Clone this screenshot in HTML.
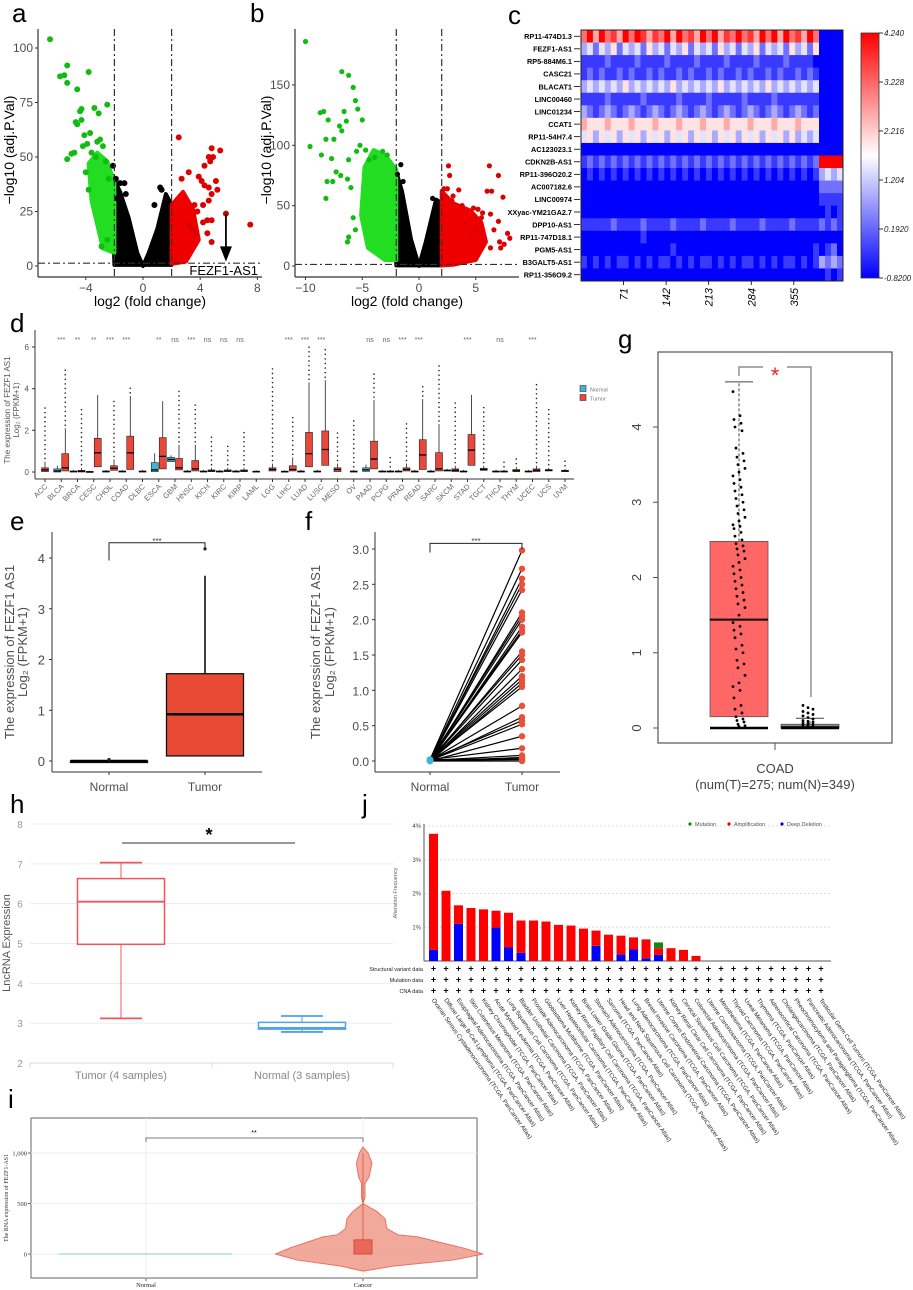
<!DOCTYPE html>
<html><head><meta charset="utf-8">
<style>
html,body{margin:0;padding:0;background:#fff;}
svg{display:block;font-family:"Liberation Sans",Arial,sans-serif;}
</style></head>
<body>
<svg id="fig" width="913" height="1290" viewBox="0 0 913 1290" xmlns="http://www.w3.org/2000/svg">
<defs>
<linearGradient id="cbar" x1="0" y1="1" x2="0" y2="0">
<stop offset="0" stop-color="#0000ff"/><stop offset="0.5" stop-color="#ffffff"/><stop offset="1" stop-color="#ff0000"/>
</linearGradient>
</defs>
<g font-size="26" fill="#000">
<text x="12" y="22">a</text>
<text x="250" y="22">b</text>
<text x="508" y="24">c</text>
<text x="10" y="332">d</text>
<text x="10" y="530">e</text>
<text x="305" y="530">f</text>
<text x="618" y="348">g</text>
<text x="10" y="813">h</text>
<text x="362" y="813">j</text>
<text x="8" y="1108">i</text>
</g>
</svg>
<script>
// ---------- DATA ----------
// panel a volcano
const aGreen=[[-6.5,104],[-5.3,92],[-5.8,87],[-5.5,87.5],[-5.3,84],[-4.6,81],[-3.8,89],[-4.3,72],[-3.4,72.5],[-3.1,70],[-2.5,74],[-4.4,71],[-4.7,66],[-4.6,65],[-4.3,67],[-5.3,49],[-5,51.5],[-4.8,52],[-3.7,61],[-4.1,60],[-3.9,56],[-4.2,55],[-3.2,57],[-3,58],[-2.8,55],[-3.6,52],[-3.3,50],[-2.6,48],[-4,43],[-2.4,40],[-2.9,9],[-3.8,35],[-2.5,12]];
const aBlack=[[-2.1,46],[-1.3,38],[-1.6,38],[-1.2,33],[-1.8,31],[1.2,36],[1.3,35],[1.5,20],[0.8,28],[-1.9,40]];
const aRed=[[2.5,59],[3.2,43],[2.7,40],[4.3,46],[4.8,54],[5.4,53],[4.6,50],[4.9,50],[4.7,48],[3.9,41],[4.1,39],[4.3,37],[5.1,39],[5.2,35],[4.6,36],[4.8,33],[4.6,30],[3.6,28],[4.2,28],[3.8,25],[4.5,21],[4.8,21],[5.8,24],[7.5,19],[4.2,20],[3.7,15],[4.5,15],[4.8,11],[3.4,17],[3.2,19]];
const aBlackCloud=[[-2.2,42],[-1.6,34],[-1,22],[-0.4,6],[0,0],[0.4,6],[1,17],[1.6,33],[2,28],[2,0.5],[-2,0.5]];
const aGreenCloud=[[-2,6],[-2,38],[-2.5,48],[-3.2,52],[-3.8,47],[-3.6,30],[-2.8,8]];
const aRedCloud=[[2,1],[2,28],[2.8,34],[3.5,26],[3.9,12],[3,2]];
// panel b volcano
const bGreen=[[-10,186],[-6.8,161],[-6.2,158],[-5.8,148],[-5.6,137],[-5.4,130],[-6.6,128],[-8.4,128],[-8.7,127],[-8,121],[-6.4,120],[-5,121],[-7,116],[-6.8,112],[-7.5,105],[-8.2,105],[-9.6,99],[-8.6,92],[-7.7,89],[-6.2,88],[-7.6,70],[-7.3,78],[-8.1,70],[-8.2,56],[-6.9,75],[-6.3,72],[-6,65],[-6.2,24],[-6.3,20],[-5.6,30],[-5.8,40],[-5.2,100],[-5.5,95],[-4.7,96],[-3.2,95],[-2.8,92],[-3.9,90],[-4.4,88]];
const bRed=[[2.6,83],[2.7,75],[2.2,64],[2.5,64],[3.5,63],[6.2,83],[7,75],[6,62],[6.4,62],[7.4,57],[3,58],[2.9,54],[3.8,50],[4.8,48],[5.2,47],[5.6,44],[6.3,43],[7,37],[5.5,40],[6.6,30],[7.8,27],[8,23],[7.1,20],[7.5,18],[7.2,15],[6.3,15],[4.5,25],[5,30],[4,35]];
const bBlack=[[-1.6,84],[-1.9,76],[-1.4,70],[1.2,56],[1.5,52]];
const bBlackCloud=[[-2,78],[-1.5,62],[-0.7,22],[0,0],[0.6,20],[1.5,55],[2,52],[2,0.5],[-2,0.5]];
const bGreenCloud=[[-2,5],[-2,80],[-3,92],[-4,96],[-4.8,82],[-5.1,42],[-4.5,15],[-3,5]];
const bRedCloud=[[2,0.5],[2,62],[3,52],[4.5,46],[5.5,36],[5.9,20],[5,5],[3,1]];
// panel c heatmap
const genes=["RP11-474D1.3","FEZF1-AS1","RP5-884M6.1","CASC21","BLACAT1","LINC00460","LINC01234","CCAT1","RP11-54H7.4","AC123023.1","CDKN2B-AS1","RP11-396O20.2","AC007182.6","LINC00974","XXyac-YM21GA2.7","DPP10-AS1","RP11-747D18.1","PGM5-AS1","B3GALT5-AS1","RP11-356O9.2"];
const heatRows=[
"79697869798687969786979687978697969786970000",
"34243524342534243524342534243524342534250000",
"11112111121111211112111121111211112111100000",
"12121121211212112121121211212112121121210000",
"34343435343434353434343534343435343434340000",
"11112111112111112111121111121111211111110000",
"32123212321232123212321232123212321232120000",
"65556555655565556555655565556555655565550000",
"45354535453545354535453545354535453534340000",
"00000000000000000000000000000000000000000000",
"12121212121212121212121212121212121212129999",
"01010101010101010101010101010101010101013434",
"00000000000000000000000000000000000000002222",
"00000000000000000000000000000000000000001111",
"00000000000000000000000000000000000000000101",
"11111211112111121111211112111121111211112121",
"00000000001000000000000000000000000000000000",
"00000000000000010000000000000000000000010120",
"10101011010101101010110101011010101101013232",
"00000000000000000000000000000000000000000101"];
const heatTicks=[71,142,213,284,355];
const cbarLabels=["4.240","3.228","2.216","1.204","0.1920","-0.8200"];
// panel d
const dCats=["ACC","BLCA","BRCA","CESC","CHOL","COAD","DLBC","ESCA","GBM","HNSC","KICH","KIRC","KIRP","LAML","LGG","LIHC","LUAD","LUSC","MESO","OV","PAAD","PCPG","PRAD","READ","SARC","SKCM","STAD","TGCT","THCA","THYM","UCEC","UCS","UVM"];
const dSig=["","***","**","**","***","***","","**","ns","***","ns","ns","ns","","","***","***","***","","","ns","ns","***","***","","","***","","ns","","***","",""];
const dTumor=[[0.02,0.1,0.2,0.5],[0.05,0.2,0.88,2.1],[0,0.03,0.08,0.2],[0.25,0.92,1.62,3.7],[0.08,0.18,0.3,0.6],[0.12,0.92,1.72,3.65],[0,0.02,0.05,0.1],[0.15,0.75,1.65,3.4],[0.1,0.2,0.65,1.3],[0.05,0.15,0.55,1.3],[0.02,0.05,0.1,0.2],[0.02,0.05,0.1,0.2],[0.02,0.05,0.1,0.2],[0,0.02,0.04,0.08],[0.05,0.12,0.2,0.4],[0.05,0.12,0.3,0.7],[0.25,0.88,1.9,4.3],[0.32,1.08,1.97,4.4],[0.02,0.12,0.2,0.4],[0,0.02,0.05,0.1],[0.15,0.62,1.48,3.45],[0,0.02,0.05,0.1],[0.05,0.12,0.2,0.4],[0.12,0.82,1.55,3.5],[0.05,0.15,0.93,2.3],[0.02,0.08,0.15,0.3],[0.32,1.05,1.8,3.7],[0.08,0.12,0.18,0.3],[0,0.02,0.05,0.1],[0.02,0.06,0.12,0.25],[0.02,0.08,0.15,0.3],[0.05,0.08,0.12,0.2],[0.02,0.05,0.08,0.15]];
const dNormal=[null,[0,0.05,0.15,0.3],[0,0.02,0.05,0.1],[0,0,0.03,0.06],[0,0.02,0.05,0.1],[0,0.02,0.05,0.1],null,[0.02,0.1,0.45,0.9],[0.5,0.6,0.7,0.8],[0,0.02,0.05,0.1],[0,0.02,0.05,0.1],[0,0.02,0.05,0.1],[0,0.02,0.05,0.1],null,null,[0,0.02,0.04,0.08],[0,0.02,0.05,0.1],[0,0.02,0.05,0.1],null,null,[0.03,0.1,0.2,0.35],[0,0.02,0.05,0.1],[0,0.02,0.05,0.1],[0,0.02,0.05,0.1],[0,0.02,0.05,0.1],[0.05,0.07,0.1,0.15],[0,0.02,0.05,0.1],null,[0,0.02,0.05,0.1],null,[0,0.02,0.05,0.1],null,null];
const dOutMax=[3.2,5.0,3.1,0,3.6,4.2,0.2,1.9,4.0,3.4,1.8,1.4,2.1,0.1,5.0,2.7,6.2,6.0,2.0,2.5,4.7,0.9,2.4,4.3,5.1,3.5,0,3.3,0.5,0.8,4.2,3.1,0.6];
// panel e
const eCats=["Normal","Tumor"];
const eBoxes=[[0,0,0,0,0],[0.1,0.1,0.92,1.72,3.65]];
const eOutliers=[[0.03],[4.18]];
// panel f
const fTumor=[2.98,2.72,2.58,2.5,2.42,2.1,2.05,2.0,1.9,1.85,1.82,1.55,1.5,1.43,1.3,1.2,1.15,1.1,1.05,0.78,0.62,0.57,0.52,0.35,0.18,0.08,0.05,0.03,0.02,0.0];
const fNormal=[0.02,0.01,0.0,0.02,0.01,0.0,0.02,0.01,0.0,0.02,0.01,0.0,0.02,0.01,0.0,0.02,0.01,0.0,0.02,0.01,0.0,0.02,0.01,0.0,0.02,0.01,0.0,0.02,0.01,0.0];
// panel g
const gTumorBox=[0,0.15,1.44,2.48,4.6];
const gNormalBox=[0,0,0.01,0.05,0.13];
const gTumorPts=[4.47,4.15,4.1,4.05,4.0,3.95,3.72,3.65,3.6,3.55,3.5,3.45,3.4,3.35,3.3,3.25,3.2,3.15,3.1,3.05,3.0,2.95,2.9,2.85,2.8,2.75,2.7,2.68,2.65,2.6,2.55,2.5,2.45,2.42,2.38,2.35,2.3,2.25,2.2,2.15,2.1,2.05,2.0,1.95,1.9,1.85,1.8,1.75,1.7,1.65,1.6,1.5,1.4,1.35,1.3,1.25,1.2,1.1,1.05,1.0,0.9,0.85,0.8,0.7,0.6,0.55,0.5,0.4,0.3,0.25,0.2,0.15,0.12,0.1,0.08,0.05,0.03,0.02];
const gNormalPts=[0.3,0.27,0.25,0.22,0.2,0.18,0.16,0.14,0.12,0.1,0.09,0.08,0.07,0.06,0.05,0.04,0.03,0.02,0.01];
// panel h
const hCats=["Tumor (4 samples)","Normal (3 samples)"];
const hBoxes=[[3.12,4.98,6.05,6.63,7.03],[2.78,2.85,2.88,3.02,3.18]];
const hTicks=[2,3,4,5,6,7,8];
// panel i
const iCats=["Normal","Cancer"];
const iTicks=[0,500,1000];
const iViolinProfile=[[-170,0],[-120,30],[-60,90],[0,120],[60,100],[120,75],[170,55],[190,35],[250,24],[350,22],[420,14],[500,0],[560,2],[700,2],[760,6],[900,9],[1000,5],[1060,0]];
const iBox=[0,140];
// panel j
const jCancers=["Ovarian Serous Cystadenocarcinoma","Diffuse Large B-Cell Lymphoma","Esophageal Adenocarcinoma","Skin Cutaneous Melanoma","Kidney Chromophobe","Acute Myeloid Leukemia","Lung Squamous Cell Carcinoma","Bladder Urothelial Carcinoma","Prostate Adenocarcinoma","Glioblastoma Multiforme","Liver Hepatocellular Carcinoma","Kidney Renal Papillary Cell Carcinoma","Brain Lower Grade Glioma","Stomach Adenocarcinoma","Sarcoma","Head and Neck Squamous Cell Carcinoma","Lung Adenocarcinoma","Breast Invasive Carcinoma","Uterine Corpus Endometrial Carcinoma","Kidney Renal Clear Cell Carcinoma","Cervical Squamous Cell Carcinoma","Colorectal Adenocarcinoma","Uterine Carcinosarcoma","Mesothelioma","Thyroid Carcinoma","Uveal Melanoma","Thymoma","Adrenocortical Carcinoma","Cholangiocarcinoma","Pheochromocytoma and Paraganglioma","Pancreatic Adenocarcinoma","Testicular Germ Cell Tumors"];
const jDeletion=[0.33,0,1.1,0,0,0.99,0.4,0.24,0,0,0,0,0,0.45,0,0.19,0.34,0.08,0.18,0,0,0,0,0,0,0,0,0,0,0,0,0];
const jAmplification=[3.44,2.08,0.55,1.57,1.53,0.5,1.03,0.96,1.2,1.17,1.07,1.05,0.96,0.45,0.78,0.56,0.36,0.56,0.2,0.38,0.33,0.15,0,0,0,0,0,0,0,0,0,0];
const jMutation=[0,0,0,0,0,0,0,0,0,0,0,0,0,0,0,0,0,0,0.17,0,0,0,0,0,0,0,0,0,0,0,0,0];
const jRows=["Structural variant data","Mutation data","CNA data"];
const jTicks=[1,2,3,4];

// ---------- HELPERS ----------
const NS="http://www.w3.org/2000/svg";
const svg=document.getElementById('fig');
function mk(tag,a,p){const e=document.createElementNS(NS,tag);for(const k in a)e.setAttribute(k,a[k]);(p||svg).appendChild(e);return e;}
function txt(x,y,s,a,name){const e=mk('text',Object.assign({x:x,y:y},a||{}));e.textContent=s;


return e;}
function line(x1,y1,x2,y2,a,name){const e=mk('line',Object.assign({x1:x1,y1:y1,x2:x2,y2:y2,stroke:'#000','stroke-width':1},a||{}));


return e;}
function lin(d0,d1,r0,r1){return v=>r0+(v-d0)*(r1-r0)/(d1-d0);}

// ---------- PANEL A & B: VOLCANO ----------
function volcano(cfg){
  const X=lin(0,1,cfg.x0,cfg.x0+cfg.sx), Y=lin(0,1,266,266-cfg.sy);
  line(cfg.ax,cfg.top,cfg.ax,277,{stroke:'#333','stroke-width':1.2},cfg.id+'-y-axis');
  line(cfg.ax,277,cfg.right,277,{stroke:'#333','stroke-width':1.2},cfg.id+'-x-axis');
  cfg.yt.forEach(t=>{line(cfg.ax-3,Y(t),cfg.ax,Y(t),{stroke:'#333'},cfg.id+'-y-tick');
    txt(cfg.ax-5,Y(t)+4,String(t),{'font-size':12,fill:'#4d4d4d','text-anchor':'end'},cfg.id+'-y-tick-label');});
  cfg.xt.forEach(t=>{line(X(t),277,X(t),280,{stroke:'#333'},cfg.id+'-x-tick');
    txt(X(t),292,t<0?'\u2212'+(-t):String(t),{'font-size':12,fill:'#4d4d4d','text-anchor':'middle'},cfg.id+'-x-tick-label');});
  txt((cfg.ax+cfg.right)/2,306,'log2 (fold change)',{'font-size':14,fill:'#000','text-anchor':'middle'},cfg.id+'-x-axis-title');
  txt(0,0,'\u2212log10 (adj.P.Val)',{'font-size':14,fill:'#000','text-anchor':'middle',transform:`translate(${cfg.ax-24},150) rotate(-90)`},cfg.id+'-y-axis-title');
  const poly=(pts,fill,name)=>{const e=mk('polygon',{points:pts.map(p=>X(p[0])+','+Y(p[1])).join(' '),fill:fill,stroke:fill,'stroke-width':4,'stroke-linejoin':'round'});
    
    };
  poly(cfg.bc,'#000',cfg.id+'-nonsig-cloud');
  poly(cfg.gc,'#22dd22',cfg.id+'-down-cloud');
  poly(cfg.rc,'#ee0000',cfg.id+'-up-cloud');
  const dots=(pts,fill,name)=>pts.forEach(p=>{const c=mk('circle',{cx:X(p[0]),cy:Y(p[1]),r:cfg.r,fill:fill});
    
    });
  dots(cfg.b,'#000',cfg.id+'-nonsig-point');
  dots(cfg.g,'#11bb11',cfg.id+'-down-point');
  dots(cfg.rd,'#dd0000',cfg.id+'-up-point');
  const da={stroke:'#333','stroke-width':1.2,'stroke-dasharray':'7,3,2,3'};
  line(X(-2),cfg.top,X(-2),277,da,cfg.id+'-fc-threshold-left');
  line(X(2),cfg.top,X(2),277,da,cfg.id+'-fc-threshold-right');
  line(cfg.ax,Y(1.3),cfg.right,Y(1.3),da,cfg.id+'-p-threshold');
  return {X,Y};
}
const va=volcano({id:'volcano-a',x0:143,sx:14.3,sy:2.18,ax:38,right:262,top:29,yt:[0,25,50,75,100],xt:[-4,0,4,8],r:3,g:aGreen,b:aBlack,rd:aRed,bc:aBlackCloud,gc:aGreenCloud,rc:aRedCloud});
line(va.X(5.8),va.Y(24),va.X(5.8),va.Y(4),{stroke:'#000','stroke-width':1.8},'fezf1-arrow');
{const ah=mk('polygon',{points:`${va.X(5.8)-6},${va.Y(9)} ${va.X(5.8)+6},${va.Y(9)} ${va.X(5.8)},${va.Y(2)}`,fill:'#000'});

}
txt(258,275,'FEZF1-AS1',{'font-size':13,'text-anchor':'end'},'fezf1-annotation');
volcano({id:'volcano-b',x0:419,sx:11.35,sy:1.207,ax:295,right:519,top:29,yt:[0,50,100,150],xt:[-10,-5,0,5],r:2.6,g:bGreen,b:bBlack,rd:bRed,bc:bBlackCloud,gc:bGreenCloud,rc:bRedCloud});

// ---------- PANEL C: HEATMAP ----------
{
  const hx0=581,hx1=843,hy0=30,hy1=281,nT=40,nN=4,xT=819;
  const rh=(hy1-hy0)/genes.length;
  const col=l=>{const v=l/9;let r,g,b;if(v<0.5){const t=v/0.5;r=Math.round(255*t);g=r;b=255;}else{const t=(v-0.5)/0.5;r=255;g=Math.round(255*(1-t));b=g;}return `rgb(${r},${g},${b})`;};
  heatRows.forEach((row,ri)=>{
    const y=hy0+ri*rh;
    for(let ci=0;ci<row.length;ci++){
      const isN=ci>=nT;
      const x=isN?xT+(ci-nT)*(hx1-xT)/nN:hx0+ci*(xT-hx0)/nT;
      const w=isN?(hx1-xT)/nN:(xT-hx0)/nT;
      const c=mk('rect',{x:x,y:y,width:w+0.4,height:rh+0.4,fill:col(+row[ci])});
      
      
    }
    txt(572,y+rh/2+2.8,genes[ri],{'font-size':7.3,'font-weight':'bold','text-anchor':'end'},'gene-label');
    line(574,y+rh/2,580,y+rh/2,{'stroke-width':0.8},'gene-tick');
  });
  const fr=mk('rect',{x:hx0,y:hy0,width:hx1-hx0,height:hy1-hy0,fill:'none',stroke:'#222','stroke-width':1});
  
  
  const sX=lin(0,397,hx0,xT);
  heatTicks.forEach(t=>{line(sX(t),hy1,sX(t),hy1+4,{'stroke-width':0.8},'heatmap-x-tick');
    txt(0,0,String(t),{'font-size':11,'font-style':'italic','text-anchor':'end',transform:`translate(${sX(t)+4},${hy1+7}) rotate(-90)`},'heatmap-x-tick-label');});
  const cb=mk('rect',{x:861,y:33,width:18,height:245,fill:'url(#cbar)',stroke:'#333','stroke-width':0.8});
  
  
  cbarLabels.forEach((l,i)=>{const y=33+i*49;line(879,y,883,y,{'stroke-width':0.8},'colorbar-tick');
    txt(884,y+3,l,{'font-size':8,'font-style':'italic','fill':'#222'},'colorbar-label');});
}

// ---------- PANEL D: PAN-CANCER BOXPLOT ----------
{
  const Y=lin(0,6,472,347), X=i=>45+i*16.25;
  line(35,330,35,479,{stroke:'#333'},'d-y-axis');
  line(35,479,574,479,{stroke:'#333'},'d-x-axis');
  [0,2,4,6].forEach(t=>{line(32,Y(t),35,Y(t),{stroke:'#333'},'d-y-tick');txt(29,Y(t)+3,String(t),{'font-size':8,fill:'#555','text-anchor':'end'},'d-y-tick-label');});
  txt(0,0,'The expression of FEZF1  AS1',{'font-size':8,fill:'#555','text-anchor':'middle',transform:'translate(10,410) rotate(-90)'},'d-y-axis-title');
  txt(0,0,'Log\u2082 (FPKM+1)',{'font-size':8,fill:'#555','text-anchor':'middle',transform:'translate(19,410) rotate(-90)'},'d-y-axis-title-2');
  const box=(cx,s,fill,name)=>{
    line(cx,Y(s[2]),cx,Y(s[3]),{'stroke-width':0.7},name+'-whisker');
    const r=mk('rect',{x:cx-3.5,y:Y(s[2]),width:7,height:Math.max(1,Y(s[0])-Y(s[2])),fill:fill,stroke:'#222','stroke-width':0.6});
    
    
    line(cx-3.5,Y(s[1]),cx+3.5,Y(s[1]),{'stroke-width':1.3},name+'-median');
  };
  dCats.forEach((c,i)=>{
    const cx=X(i), hasN=!!dNormal[i], tx=hasN?cx+4:cx;
    if(hasN) box(cx-4,dNormal[i],'#3cb4dc','d-normal-box');
    box(tx,dTumor[i],'#e8483a','d-tumor-box');
    for(let v=dTumor[i][3]+0.15;v<=dOutMax[i];v+=0.22){const o=mk('circle',{cx:tx,cy:Y(v),r:0.8,fill:'#222'});
      
      }
    line(cx,479,cx,482,{stroke:'#333'},'d-x-tick');
    txt(0,0,c,{'font-size':7.5,fill:'#666','text-anchor':'end',transform:`translate(${cx+3},${487}) rotate(-45)`},'d-category-label');
    if(dSig[i]) txt(cx,342,dSig[i],{'font-size':7,fill:'#666','text-anchor':'middle'},'d-significance');
  });
  [['Normal','#3cb4dc',389],['Tumor','#e8483a',398]].forEach(l=>{
    const r=mk('rect',{x:580,y:l[2]-3.5,width:6,height:6,fill:l[1],stroke:'#333','stroke-width':0.6});
    
    
    txt(590,l[2]+2.5,l[0],{'font-size':5.5,fill:'#777'},'d-legend-label');});
}

// ---------- PANEL E ----------
{
  const Y=lin(0,4,761,558), X=[109,205];
  line(52,532,52,772,{stroke:'#333'},'e-y-axis');line(52,772,262,772,{stroke:'#333'},'e-x-axis');
  [0,1,2,3,4].forEach(t=>{line(49,Y(t),52,Y(t),{stroke:'#333'},'e-y-tick');txt(45,Y(t)+5,String(t),{'font-size':13,fill:'#4d4d4d','text-anchor':'end'},'e-y-tick-label');});
  txt(0,0,'The expression of FEZF1  AS1',{'font-size':13,fill:'#4d4d4d','text-anchor':'middle',transform:'translate(14,652) rotate(-90)'},'e-y-axis-title');
  txt(0,0,'Log\u2082 (FPKM+1)',{'font-size':13,fill:'#4d4d4d','text-anchor':'middle',transform:'translate(27,652) rotate(-90)'},'e-y-axis-title-2');
  eCats.forEach((c,i)=>{
    const s=eBoxes[i],cx=X[i],w=77;
    line(cx,Y(s[3]),cx,Y(s[4]),{'stroke-width':1.5},'e-whisker');
    line(cx,Y(s[0]),cx,Y(s[1]),{'stroke-width':1.5},'e-whisker-low');
    const r=mk('rect',{x:cx-w/2,y:Y(s[3]),width:w,height:Math.max(1.5,Y(s[1])-Y(s[3])),fill:i?'#e84a35':'#222',stroke:'#111','stroke-width':1.3});
    
    
    line(cx-w/2,Y(s[2]),cx+w/2,Y(s[2]),{'stroke-width':2.5},'e-median');
    eOutliers[i].forEach(v=>{const o=mk('circle',{cx:cx,cy:Y(v),r:1.6,fill:'#222'});
      
      });
    line(cx,772,cx,775,{stroke:'#333'},'e-x-tick');
    txt(cx,791,c,{'font-size':12,fill:'#4d4d4d','text-anchor':'middle'},'e-x-label');
  });
  const bp=mk('polyline',{points:`${X[0]},${Y(3.95)} ${X[0]},${Y(4.3)} ${X[1]},${Y(4.3)} ${X[1]},${Y(4.2)}`,fill:'none',stroke:'#222','stroke-width':1});
  
  
  txt(157,544,'***',{'font-size':8,fill:'#444','text-anchor':'middle'},'e-significance');
}

// ---------- PANEL F ----------
{
  const Y=lin(0,3,761,549), X=[430,522];
  line(375,532,375,772,{stroke:'#333'},'f-y-axis');line(375,772,560,772,{stroke:'#333'},'f-x-axis');
  [0,0.5,1,1.5,2,2.5,3].forEach(t=>{line(372,Y(t),375,Y(t),{stroke:'#333'},'f-y-tick');txt(369,Y(t)+5,t.toFixed(1),{'font-size':12,fill:'#4d4d4d','text-anchor':'end'},'f-y-tick-label');});
  txt(0,0,'The expression of FEZF1  AS1',{'font-size':13,fill:'#4d4d4d','text-anchor':'middle',transform:'translate(320,652) rotate(-90)'},'f-y-axis-title');
  txt(0,0,'Log\u2082 (FPKM+1)',{'font-size':13,fill:'#4d4d4d','text-anchor':'middle',transform:'translate(334,652) rotate(-90)'},'f-y-axis-title-2');
  fTumor.forEach((v,i)=>{line(X[0],Y(fNormal[i]),X[1],Y(v),{'stroke-width':1.2},'f-pair-line');});
  fTumor.forEach(v=>{const c=mk('circle',{cx:X[1],cy:Y(v),r:3.2,fill:'#e8503a'});
    
    });
  fNormal.forEach(v=>{const c=mk('circle',{cx:X[0],cy:Y(v),r:3.2,fill:'#3cb8dc'});
    
    });
  ['Normal','Tumor'].forEach((c,i)=>{line(X[i],772,X[i],775,{stroke:'#333'},'f-x-tick');txt(X[i],791,c,{'font-size':12,fill:'#4d4d4d','text-anchor':'middle'},'f-x-label');});
  const bp=mk('polyline',{points:`${X[0]},${Y(2.95)} ${X[0]},${Y(3.08)} ${X[1]},${Y(3.08)} ${X[1]},${Y(3.0)}`,fill:'none',stroke:'#222','stroke-width':1});
  
  
  txt(476,544,'***',{'font-size':8,fill:'#444','text-anchor':'middle'},'f-significance');
}

// ---------- PANEL G ----------
{
  const Y=lin(0,4,728,427);
  const fr=mk('rect',{x:658,y:352,width:234,height:391,fill:'none',stroke:'#555','stroke-width':1.2});
  
  
  [0,1,2,3,4].forEach(t=>{line(653,Y(t),658,Y(t),{stroke:'#555'},'g-y-tick');txt(0,0,String(t),{'font-size':13,fill:'#444','text-anchor':'middle',transform:`translate(${641},${Y(t)}) rotate(-90)`},'g-y-tick-label');});
  const bx=(cx,s,fill,name)=>{
    line(cx,Y(s[3]),cx,Y(s[4]),{stroke:'#444','stroke-dasharray':'3,2'},name+'-whisker');
    line(cx-14,Y(s[4]),cx+14,Y(s[4]),{stroke:'#444'},name+'-cap');
    const r=mk('rect',{x:cx-29,y:Y(s[3]),width:58,height:Math.max(2,Y(s[1])-Y(s[3])),fill:fill,stroke:'#555','stroke-width':0.8});
    
    
    line(cx-29,Y(s[2]),cx+29,Y(s[2]),{'stroke-width':2},name+'-median');
    line(cx-29,Y(s[0]),cx+29,Y(s[0]),{'stroke-width':2.5},name+'-min');
  };
  bx(739,gTumorBox,'#ff6666','g-tumor-box');
  bx(810,gNormalBox,'#888','g-normal-box');
  gTumorPts.forEach((v,i)=>{const c=mk('circle',{cx:739+((i*7)%13)-6,cy:Y(v),r:1.4,fill:'#000'});
    
    });
  gNormalPts.forEach((v,i)=>{const c=mk('circle',{cx:810+((i*5)%15)-7,cy:Y(v),r:1.4,fill:'#000'});
    
    });
  const bp=mk('polyline',{points:`739,376 739,367 811,367 811,697`,fill:'none',stroke:'#777','stroke-width':1.2});
  
  
  const wb=mk('rect',{x:763,y:362,width:24,height:10,fill:'#fff'});
  
  
  txt(775,383,'*',{'font-size':22,fill:'#ee2222','text-anchor':'middle'},'g-significance');
  line(775,743,775,750,{stroke:'#555'},'g-x-tick');
  txt(775,773,'COAD',{'font-size':13,fill:'#444','text-anchor':'middle'},'g-x-label');
  txt(775,789,'(num(T)=275; num(N)=349)',{'font-size':13,fill:'#444','text-anchor':'middle'},'g-sample-count');
}

// ---------- PANEL H ----------
{
  const Y=lin(2,8,1063,824), X=[121,302];
  hTicks.forEach(t=>{if(t>2)line(30,Y(t),393,Y(t),{stroke:'#e8edf3'},'h-gridline');txt(20,Y(t)+4,String(t),{'font-size':10,fill:'#999','text-anchor':'middle'},'h-y-tick-label');});
  line(30,Y(2),393,Y(2),{stroke:'#d5dbe5'},'h-x-axis');
  [30,212,393].forEach(x=>line(x,Y(2),x,Y(2)+5,{stroke:'#d5dbe5'},'h-x-tick'));
  txt(0,0,'LncRNA Expression',{'font-size':11,fill:'#555','text-anchor':'middle',transform:'translate(10,943) rotate(-90)'},'h-y-axis-title');
  hCats.forEach((c,i)=>{
    const s=hBoxes[i],cx=X[i],col=i?'#4ea3ea':'#f2545b',w=87;
    line(cx,Y(s[0]),cx,Y(s[1]),{stroke:col},'h-whisker-low');
    line(cx,Y(s[3]),cx,Y(s[4]),{stroke:col},'h-whisker-high');
    line(cx-21,Y(s[0]),cx+21,Y(s[0]),{stroke:col,'stroke-width':1.8},'h-cap-low');
    line(cx-21,Y(s[4]),cx+21,Y(s[4]),{stroke:col,'stroke-width':1.8},'h-cap-high');
    const r=mk('rect',{x:cx-w/2,y:Y(s[3]),width:w,height:Y(s[1])-Y(s[3]),fill:'#fff',stroke:col,'stroke-width':1.5});
    
    
    line(cx-w/2,Y(s[2]),cx+w/2,Y(s[2]),{stroke:col,'stroke-width':1.8},'h-median');
    txt(cx,1079,c,{'font-size':11,fill:'#888','text-anchor':'middle'},'h-x-label');
  });
  line(122,843,295,843,{stroke:'#333'},'h-significance-bar');
  txt(209,841,'*',{'font-size':18,'text-anchor':'middle','font-weight':'bold'},'h-significance');
}

// ---------- PANEL I ----------
{
  const Y=lin(0,1000,1254,1153), X=[146,363];
  const fr=mk('rect',{x:31,y:1118,width:446,height:160,fill:'none',stroke:'#666','stroke-width':1});
  
  
  iTicks.forEach(t=>{line(31,Y(t),477,Y(t),{stroke:'#eee'},'i-gridline');line(28,Y(t),31,Y(t),{stroke:'#666'},'i-y-tick');
    txt(27,Y(t)+2.5,t===1000?'1,000':String(t),{'font-size':6.5,'font-family':'Liberation Serif',fill:'#333','text-anchor':'end'},'i-y-tick-label');});
  X.forEach((x,i)=>{line(x,1118,x,1278,{stroke:'#eee'},'i-vgridline');line(x,1278,x,1281,{stroke:'#666'},'i-x-tick');
    txt(x,1287,iCats[i],{'font-size':6.5,'font-family':'Liberation Serif',fill:'#222','text-anchor':'middle'},'i-x-label');});
  txt(0,0,'The RNA expression of FEZF1-AS1',{'font-size':6,'font-family':'Liberation Serif',fill:'#333','text-anchor':'middle',transform:'translate(8,1198) rotate(-90)'},'i-y-axis-title');
  line(59,Y(0),232,Y(0),{stroke:'#a8dcea','stroke-width':1.6},'i-normal-violin');
  const right=iViolinProfile.map(p=>`${X[1]+p[1]},${Y(p[0])}`), left=iViolinProfile.slice().reverse().map(p=>`${X[1]-p[1]*0.73},${Y(p[0])}`);
  const vp=mk('polygon',{points:right.concat(left).join(' '),fill:'#f0a090',stroke:'#ec7060','stroke-width':1,'fill-opacity':0.9});
  
  
  line(X[1],Y(iBox[1]),X[1],Y(1000),{stroke:'#e86050','stroke-width':1},'i-whisker');
  const bxr=mk('rect',{x:X[1]-9,y:Y(iBox[1]),width:18,height:Y(iBox[0])-Y(iBox[1]),fill:'#e8685a',stroke:'#d84a3c','stroke-width':1});
  
  
  const bp=mk('polyline',{points:`${X[0]},1142 ${X[0]},1138 ${X[1]},1138 ${X[1]},1142`,fill:'none',stroke:'#555','stroke-width':0.8});
  
  
  txt(254,1135,'**',{'font-size':7,'text-anchor':'middle'},'i-significance');
}

// ---------- PANEL J ----------
{
  const Y=lin(0,4,961,826), X=i=>433.5+i*12.5, bw=9;
  jTicks.forEach(t=>{line(424,Y(t),831,Y(t),{stroke:'#ddd','stroke-dasharray':'2,2'},'j-gridline');
    txt(421,Y(t)+2,t+'%',{'font-size':6,fill:'#444','text-anchor':'end'},'j-y-tick-label');});
  line(424,824,424,961,{stroke:'#555'},'j-y-axis');line(424,961,831,961,{stroke:'#555'},'j-x-axis');
  txt(0,0,'Alteration Frequency',{'font-size':5.5,fill:'#666','text-anchor':'middle',transform:'translate(397,893) rotate(-90)'},'j-y-axis-title');
  jCancers.forEach((c,i)=>{
    const cx=X(i); let base=0;
    [[jDeletion,'#0000ff','j-bar-deletion'],[jAmplification,'#ff0000','j-bar-amplification'],[jMutation,'#118811','j-bar-mutation']].forEach(s=>{
      const v=s[0][i]; if(v>0){const r=mk('rect',{x:cx-bw/2,y:Y(base+v),width:bw,height:Y(base)-Y(base+v),fill:s[1]});
        
        
        base+=v;}
    });
    jRows.forEach((rname,ri)=>txt(cx,[971.5,982.5,993.5][ri],'+',{'font-size':9,'font-weight':'bold','text-anchor':'middle'},'j-data-marker'));
    txt(0,0,c+' (TCGA, PanCancer Atlas)',{'font-size':6,fill:'#222',transform:`translate(${cx-2},${1000}) rotate(55)`},'j-cancer-label');
  });
  jRows.forEach((r,ri)=>txt(423,[971,982,993][ri],r,{'font-size':5.5,fill:'#222','text-anchor':'end'},'j-row-label'));
  [['Mutation','#118811',690],['Amplification','#dd0000',729],['Deep Deletion','#0000dd',782]].forEach(l=>{
    const c=mk('circle',{cx:l[2],cy:824,r:1.6,fill:l[1]});
    
    
    txt(l[2]+5,826,l[0],{'font-size':5.5,fill:'#555'},'j-legend-label');});
}
</script>
</body></html>
